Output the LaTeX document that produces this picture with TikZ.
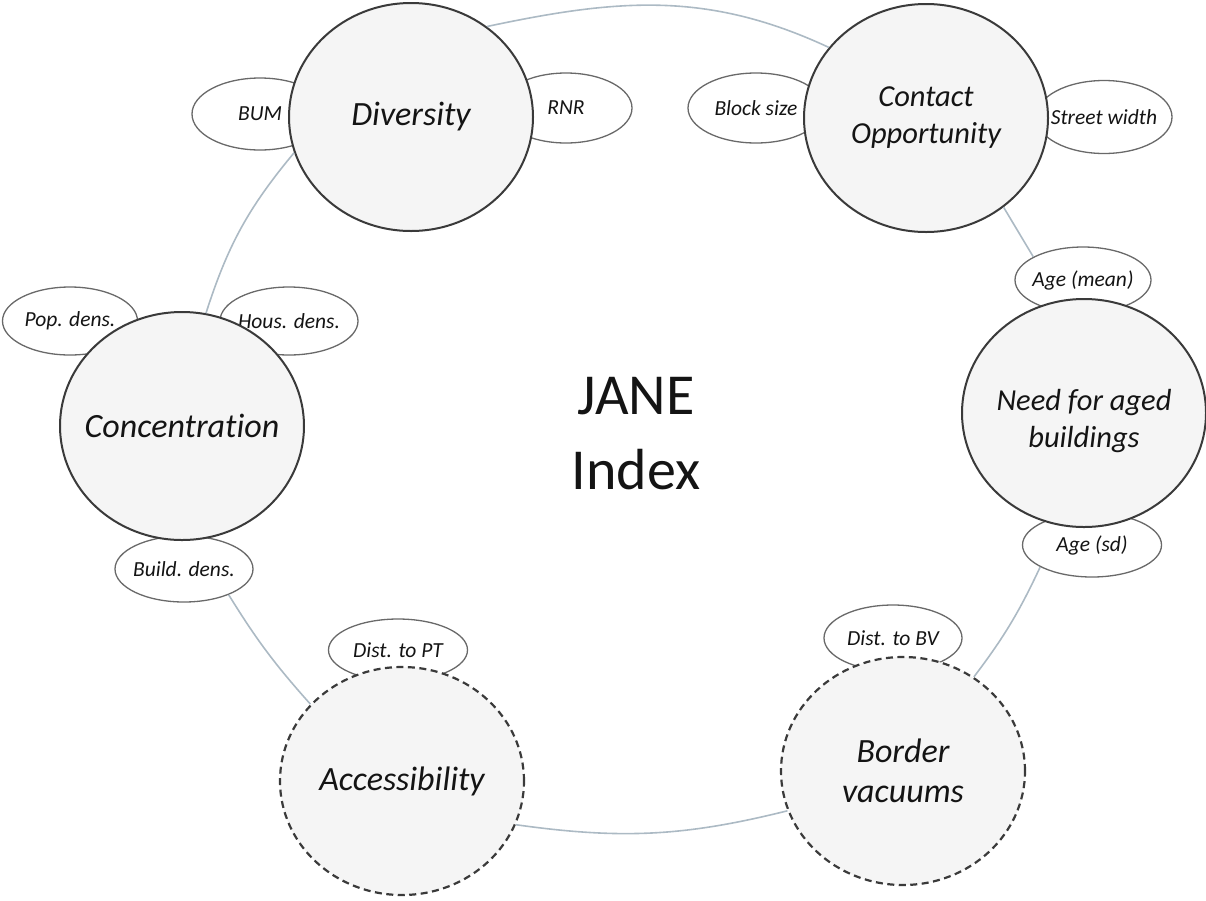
\documentclass[tikz,border=0pt]{standalone}
\usepackage{fontspec}
\setmainfont{Carlito}[Ligatures=CommonOff]
\usepackage{xcolor}
\usetikzlibrary{shapes.geometric}

\definecolor{ringgray}{RGB}{172,186,196}
\definecolor{circfill}{RGB}{245,245,245}
\definecolor{circline}{RGB}{58,58,58}
\definecolor{leafline}{RGB}{105,105,105}
\definecolor{txt}{RGB}{20,20,20}

\begin{document}
\begin{tikzpicture}[x=1pt,y=-1pt,
        factor/.style={ellipse,draw=circline,line width=2pt,fill=circfill,minimum width=244pt,minimum height=228pt,inner sep=0pt},
        weak/.style={factor,dash pattern=on 7pt off 4.5pt,line width=2.2pt},
        flabel/.style={align=center,text=txt,font=\fontsize{34}{40}\selectfont\itshape},
        flabeltwo/.style={align=center,text=txt,font=\fontsize{30.5}{37}\selectfont\itshape},
        leaf/.style={ellipse,draw=leafline,line width=1.3pt,fill=white,minimum width=138pt,minimum height=68pt,inner sep=0pt},
        llabel/.style={text=txt,font=\fontsize{21.5}{24}\selectfont\itshape},
        ring/.style={draw=ringgray,line width=1.6pt}]
                \useasboundingbox (0,0) rectangle (1206,900);

                % indicators
                \node[leaf,minimum width=136pt,minimum height=72pt,label={[llabel]center:BUM}] (bum) at (260,114) {};
                \node[leaf,minimum width=132pt,minimum height=70pt,label={[llabel]center:RNR}] (rnr) at (566,108) {};
                \node[leaf,minimum width=136pt,minimum height=70pt,label={[llabel]center:Block size}] (block) at (756,108) {};
                \node[leaf,minimum width=136pt,minimum height=73pt,label={[llabel]center:Street width}] (street) at (1104,117) {};
                \node[leaf,minimum width=136pt,minimum height=66pt,label={[llabel]center:Age (mean)}] (agemean) at (1083,280) {};
                \node[leaf,minimum width=139pt,minimum height=64pt,label={[llabel]center:Age (sd)}] (agesd) at (1092,545) {};
                \node[leaf,minimum width=135pt,label={[llabel]center:Pop. dens.}] (pop) at (70,321) {};
                \node[leaf,label={[llabel]center:Hous. dens.}] (hous) at (289,321) {};
                \node[leaf,minimum height=66pt,label={[llabel]center:Build. dens.}] (build) at (184,569) {};
                \node[leaf,minimum width=139pt,minimum height=62pt,label={[llabel]center:Dist. to PT}] (distpt) at (398,650) {};
                \node[leaf,minimum height=66pt,label={[llabel]center:Dist. to BV}] (distbv) at (893,638) {};

                % factors
                \node[factor,label={[flabel]center:Diversity}] (div) at (411,117) {};
                \node[factor,label={[flabeltwo]center:Contact\\Opportunity}] (con) at (926,118) {};
                \node[factor,label={[flabeltwo,yshift=-8pt]center:Need for aged\\buildings}] (need) at (1084,413) {};
                \node[weak,label={[flabel]center:Border\\vacuums}] (bord) at (903,771) {};
                \node[weak,label={[flabel]center:Accessibility}] (acc) at (402,781) {};
                \node[factor,label={[flabel]center:Concentration}] (conc) at (182,426) {};

                % ring
                \draw[ring] (conc.78) to[bend left=11] (div.197);
                \draw[ring] (div.50) to[out=12,in=155] (con.144);
                \draw[ring] (con.-49) -- (agemean.155);
                \draw[ring] (agesd.203) to[bend left=6] (bord.53);
                \draw[ring] (bord.199) to[out=194,in=-8] (acc.-21);
                \draw[ring] (acc.140) to[bend left=5] (build.-30);

                \node[align=center,text=txt,font=\fontsize{58}{75}\selectfont] (jane) at (636,434) {JANE\\Index};
            \end{tikzpicture}
\end{document}
